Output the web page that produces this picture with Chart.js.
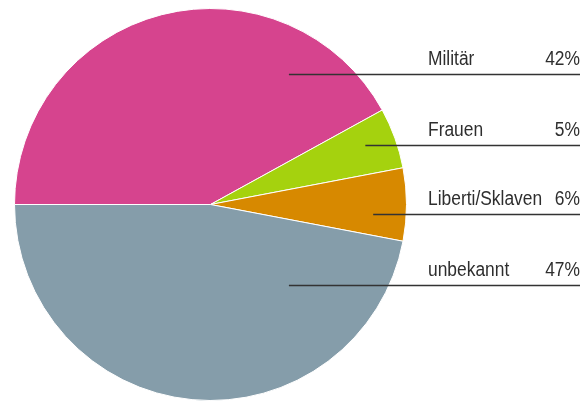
<!DOCTYPE html>
<html>
<head>
<meta charset="utf-8">
<script src="https://cdn.jsdelivr.net/npm/chart.js@4/dist/chart.umd.min.js"></script>
<style>
    html, body { margin: 0; padding: 0; background: #fff; }
    #graph-container { width: 585px; height: 401px; }
</style>
</head>
<body>
<div id="graph-container">
    <canvas id="myChart" width="585" height="401"></canvas>
</div>
<script>
// slices, clockwise from 9 o'clock
var categories = ['Militär', 'Frauen', 'Liberti/Sklaven', 'unbekannt'];
var shares = [42, 5, 6, 47];
var sliceColors = ['#d6448e', '#a5d20e', '#d78900', '#859daa'];

// label rows at the right: y of the rule, and where it starts (fraction of radius from centre)
var labelRows = [
    { y: 74, start: 0.40 },
    { y: 145, start: 0.79 },
    { y: 214, start: 0.83 },
    { y: 285, start: 0.40 }
];

var myChart = null;

// no narrow face installed, so squeeze a regular one
function narrowText(ctx, text, x, y, align) {
    ctx.save();
    ctx.translate(x, y);
    ctx.scale(0.87, 1);
    ctx.textAlign = align;
    ctx.fillText(text, 0, 0);
    ctx.restore();
}

var sideLabels = {
    id: 'sideLabels',
    afterDraw: function (chart) {
        var ctx = chart.ctx;
        var arc = chart.getDatasetMeta(0).data[0];
        var cx = arc.x, r = arc.outerRadius;
        ctx.save();
        ctx.font = '20px "Liberation Sans", Arial, sans-serif';
        ctx.fillStyle = '#2e2e2e';
        ctx.strokeStyle = '#333';
        ctx.lineWidth = 1.3;
        ctx.textBaseline = 'alphabetic';
        for (var i = 0; i < categories.length; i++) {
            var row = labelRows[i];
            ctx.beginPath();
            ctx.moveTo(cx + row.start * r, row.y + 0.5);
            ctx.lineTo(580, row.y + 0.5);
            ctx.stroke();

            narrowText(ctx, categories[i], 428, row.y - 9, 'left');
            narrowText(ctx, shares[i] + '%', 580, row.y - 9, 'right');
        }
        ctx.restore();
    }
};

function drawChart() {
    if (myChart != null) {
        myChart.destroy();
    }
    const ctx = document.getElementById('myChart').getContext('2d');
    myChart = new Chart(ctx, {
        type: 'pie',
        data: {
            labels: categories,
            datasets: [{
                data: shares,
                backgroundColor: sliceColors,
                borderColor: '#ffffff',
                borderWidth: 1
            }]
        },
        options: {
            responsive: false,
            rotation: -90,
            animation: { duration: 0 },
            layout: {
                padding: { left: 14, right: 178, top: 8, bottom: 0 }
            },
            plugins: {
                legend: { display: false },
                tooltip: { enabled: false }
            }
        },
        plugins: [sideLabels]
    });
}

drawChart();
</script>
</body>
</html>
